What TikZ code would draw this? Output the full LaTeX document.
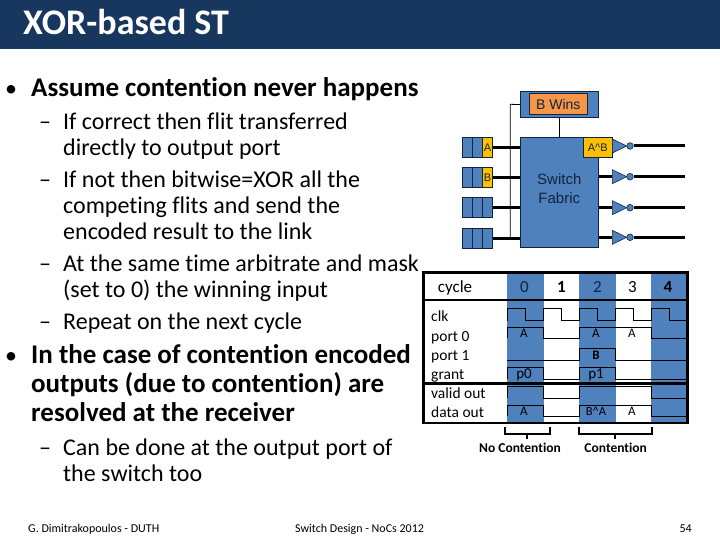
\documentclass[tikz,border=0pt]{standalone}
\usepackage{fontspec}
\setmainfont[Ligatures=CommonOff]{Carlito}
\newfontfamily\arialfont{Liberation Sans}
\definecolor{c1}{HTML}{17375E}
\definecolor{c2}{HTML}{4F81BD}
\definecolor{c3}{HTML}{FFC000}
\definecolor{c4}{HTML}{F79646}
\definecolor{c5}{HTML}{0F243E}
\begin{document}
\begin{tikzpicture}[x=1pt,y=-1pt,
  txt/.style={anchor=base west, inner sep=0pt, font=\fontsize{24}{24}\selectfont, text=black},
  head/.style={txt, font=\bfseries\fontsize{27}{27}\selectfont},
  foot/.style={txt, font=\fontsize{12}{12}\selectfont},
  tab/.style={anchor=base, inner sep=0pt, font=\fontsize{17}{17}\selectfont},
  lbl/.style={anchor=base west, inner sep=0pt, font=\fontsize{15.5}{15.5}\selectfont},
  sig/.style={anchor=base, inner sep=0pt, font=\fontsize{13}{13}\selectfont},
  blk/.style={draw=c5, fill=c2, inner sep=0pt, line width=0.6pt},
  gold/.style={draw=c5, fill=c3, inner sep=0pt, line width=0.6pt, text=c5, font=\arialfont\fontsize{11}{11}\selectfont},
  wire/.style={line width=3pt},
  thin/.style={line width=0.8pt},
  wave/.style={line width=0.7pt},
  tabline/.style={line width=2.4pt}
]
  \useasboundingbox (0,0) rectangle (720,540);
  % Title
  \node[fill=c1, minimum width=720pt, minimum height=49pt, inner sep=0pt, anchor=north west] (bar) at (0,0) {};
  \node[anchor=base west, inner sep=0pt, text=white, font=\bfseries\fontsize{36}{36}\selectfont] (title) at (23,34.5) {XOR-based ST};
  % Bullets
  \node[txt] (b1) at (5,97) {•};
  \node[head] (t1) at (31,97) {Assume contention never happens};
  \node[txt] (d1) at (39,130) {–};
  \node[txt] (t2) at (63,130) {If correct then flit transferred};
  \node[txt] (t3) at (63,156) {directly to output port};
  \node[txt] (d2) at (39,188) {–};
  \node[txt] (t4) at (63,188) {If not then bitwise=XOR all the};
  \node[txt] (t5) at (63,214) {competing flits and send the};
  \node[txt] (t6) at (63,240) {encoded result to the link};
  \node[txt] (d3) at (39,271) {–};
  \node[txt] (t7) at (63,271) {At the same time arbitrate and mask};
  \node[txt] (t8) at (63,297) {(set to 0) the winning input};
  \node[txt] (d4) at (39,329) {–};
  \node[txt] (t9) at (63,329) {Repeat on the next cycle};
  \node[txt] (b2) at (5,363.5) {•};
  \node[head] (t10) at (31,363.5) {In the case of contention encoded};
  \node[head] (t11) at (31,392.7) {outputs (due to contention) are};
  \node[head] (t12) at (31,421.7) {resolved at the receiver};
  \node[txt] (d5) at (39,455) {–};
  \node[txt] (t13) at (63,455) {Can be done at the output port of};
  \node[txt] (t14) at (63,481) {the switch too};
  % Footer
  \node[foot] (f1) at (28,532) {G. Dimitrakopoulos - DUTH};
  \node[foot] (f2) at (295,532) {Switch Design - NoCs 2012};
  \node[foot, anchor=base east] (f3) at (692,532) {54};
  % Switch
  \node[blk, minimum width=78pt, minimum height=26pt, anchor=north west] (arb) at (520.3,91.3) {};
  \node[draw=c5, fill=c4, inner sep=0pt, line width=0.6pt, minimum width=58pt, minimum height=21pt, text=c5, font=\arialfont\fontsize{14}{14}\selectfont] (bwins) at (558.3,104.2) {B Wins};
  \node[blk, minimum width=78pt, minimum height=110pt, anchor=north west] (fabric) at (520.3,137.3) {};
  \node[align=center, inner sep=0pt, text=c5, font=\arialfont\fontsize{15}{18.5}\selectfont] (fabtxt) at (559.3,188.5) {Switch\\Fabric};
  \node[gold, minimum width=28.4pt, minimum height=20pt, anchor=north west] (axb) at (583.3,137.3) {A\^{}B};
  % Input queues
  \foreach \n/\y in {1/137.3, 2/167.3, 3/197.3, 4/228} {
    \node[blk, minimum width=10pt, minimum height=19.5pt, anchor=north west] (qa\n) at (462.3,\y) {};
    \node[blk, minimum width=10pt, minimum height=19.5pt, anchor=north west] (qb\n) at (472.3,\y) {};
  }
  \node[gold, minimum width=10pt, minimum height=19.5pt, anchor=north west] (qc1) at (482.3,137.3) {A};
  \node[gold, minimum width=10pt, minimum height=19.5pt, anchor=north west] (qc2) at (482.3,167.3) {B};
  \node[blk, minimum width=10pt, minimum height=19.5pt, anchor=north west] (qc3) at (482.3,197.3) {};
  \node[blk, minimum width=10pt, minimum height=19.5pt, anchor=north west] (qc4) at (482.3,228) {};
  \foreach \n in {1,...,4} {
    \draw[wire] (qc\n.east) -- (qc\n.east -| fabric.west);
  }
  % Grant line
  \coordinate (gt) at (510.3,104.3);
  \coordinate (gb) at (510.3,238);
  \draw[thin] (arb.west) -- (gt) -- (gb);
  \draw[thin] (arb.south) -- (fabric.north -| arb.south);
  % Outputs
  \foreach \n/\y in {1/146, 2/176.7, 3/207.7, 4/237.3} {
    \coordinate (tip\n) at (626.7,\y);
    \draw[draw=c5, fill=c2, line width=0.6pt] (612.3,\y-7) -- (tip\n) -- (612.3,\y+7) -- cycle;
    \node[circle, blk, minimum size=6.6pt] (inv\n) at (630,\y) {};
    \coordinate (out\n) at (685,\y);
    \draw[wire] (inv\n.east) -- (out\n);
  }
  \foreach \n/\y in {2/176.7, 3/207.7, 4/237.3} {
    \coordinate (inp\n) at (612.3,\y);
    \draw[wire] (inp\n -| fabric.east) -- (inp\n);
  }
  % Table
  \foreach \xa/\xb in {507.3/543.7, 579.3/615.7, 651.3/687} {
    \fill[c2] (\xa,272) rectangle (\xb,423);
  }
  \node[tab] (cyc) at (455,292.7) {cycle};
  \node[tab, text=c5] (c0) at (524.5,292.7) {0};
  \node[tab, font=\bfseries\fontsize{17}{17}\selectfont] (c1t) at (561.5,292.7) {1};
  \node[tab, text=c5] (c2t) at (597.5,292.7) {2};
  \node[tab] (c3t) at (632.5,292.7) {3};
  \node[tab, font=\bfseries\fontsize{17}{17}\selectfont] (c4t) at (668,292.7) {4};
  \node[lbl] (clk) at (431,321) {clk};
  \node[lbl] (p0) at (431,341) {port 0};
  \node[lbl] (p1) at (431,360) {port 1};
  \node[lbl] (gnt) at (431,379) {grant};
  \node[lbl] (vld) at (431,398) {valid out};
  \node[lbl] (dat) at (431,417) {data out};
  % Waves
  \draw[wave] (507.3,320.7) |- (525.7,308.3) |- (543.7,320.7) |- (561.7,308.3) |- (579.3,320.7) |- (597.7,308.3) |- (615.7,320.7) |- (633.7,308.3) |- (651.3,320.7) |- (669.7,308.3) |- (687,320.7);
  \draw[wave] (507.3,338.3) |- (543.7,327) |- (579.3,338.3) |- (651.3,327) |- (687,338.3);
  \draw[wave] (507.3,360.3) -- (579.3,360.3) |- (615.7,348.7) |- (687,360.3);
  \draw[wave] (507.3,379.3) |- (543.7,367.7) |- (579.3,379.3) |- (615.7,367.7) |- (687,379.3);
  \draw[wave] (507.3,398) |- (543.7,386.7) |- (579.3,398) |- (651.3,386.7) |- (687,398);
  \draw[wave] (507.3,416.3) |- (543.7,405) |- (579.3,416.3) |- (651.3,405) |- (687,416.3);
  \node[sig] (a0) at (524,337.7) {A};
  \node[sig] (a2) at (596,337.7) {A};
  \node[sig] (a3) at (632,337.7) {A};
  \node[sig, font=\bfseries\fontsize{13}{13}\selectfont] (b2t) at (596,359.5) {B};
  \node[sig, font=\fontsize{15}{15}\selectfont] (g0) at (524,378) {p0};
  \node[sig, font=\fontsize{15}{15}\selectfont] (g1) at (596,378) {p1};
  \node[sig] (a4) at (524,415.5) {A};
  \node[sig, font=\fontsize{12.5}{12.5}\selectfont] (x2) at (596,415.5) {B\^{}A};
  \node[sig] (a5) at (632,415.5) {A};
  % Table frame
  \draw[tabline] (423.5,272.5) rectangle (687.5,423);
  \draw[tabline] (423.5,300) -- (687.5,300);
  \draw[tabline] (423.5,383.3) -- (687.5,383.3);
  % Brackets
  \node[sig, font=\bfseries\fontsize{13.5}{13.5}\selectfont] (noc) at (520,452.7) {No Contention};
  \node[sig, font=\bfseries\fontsize{13.5}{13.5}\selectfont] (con) at (615.7,452.7) {Contention};
  \draw[line width=1.8pt] (505,427.3) |- (550,434) -- (550,427.3);
  \draw[line width=1.8pt] (527,434) -- (527,438.5);
  \draw[line width=1.8pt] (578.7,427.3) |- (652,434) -- (652,427.3);
  \draw[line width=1.8pt] (615,434) -- (615,438.5);
\end{tikzpicture}
\end{document}
